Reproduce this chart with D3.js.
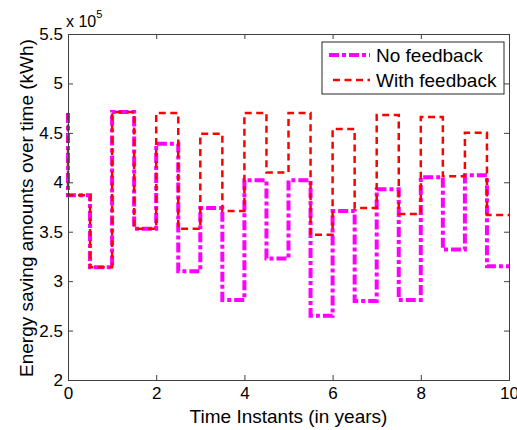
<!DOCTYPE html>
<html>
<head>
<meta charset="utf-8">
<script src="https://cdn.jsdelivr.net/npm/d3@7"></script>
<style>
  body { margin: 0; background: #fff; }
  svg { font-family: Arial, "Liberation Sans", sans-serif; }
</style>
</head>
<body>
<div id="chart"></div>
<script>
// step edges (years) and levels, x 1e5 kWh
var edges = [0, 0.5, 1, 1.5, 2, 2.5, 3, 3.5, 4, 4.5, 5, 5.5, 6, 6.5, 7, 7.5, 8, 8.5, 9, 9.5, 10];
var startLevel = 4.70;
var noFeedback = [3.87, 3.14, 4.71, 3.53, 4.39, 3.10, 3.74, 2.81, 4.02, 3.23,
                  4.02, 2.65, 3.71, 2.80, 3.93, 2.81, 4.05, 3.32, 4.07, 3.15];
var withFeedback = [3.87, 3.14, 4.71, 3.53, 4.70, 3.53, 4.49, 3.71, 4.70, 4.10,
                    4.70, 3.47, 4.54, 3.74, 4.68, 3.68, 4.66, 4.06, 4.50, 3.67];
var xTicks = [0, 2, 4, 6, 8, 10];
var yTicks = [2, 2.5, 3, 3.5, 4, 4.5, 5, 5.5];

(function() {
    'use strict';

    var width = 517, height = 430;
    var margin = {left: 68, right: 8, top: 34, bottom: 50};
    var w = width - margin.left - margin.right;
    var h = height - margin.top - margin.bottom;
    var axisColor = "#404040";

    var svg = d3.select("#chart").append("svg")
        .attr("width", width)
        .attr("height", height);

    var g = svg.append("g")
        .attr("transform", "translate(" + margin.left + "," + margin.top + ")");

    var x = d3.scaleLinear().domain([0, 10]).range([0, w]);
    var y = d3.scaleLinear().domain([2, 5.5]).range([h, 0]);

    // turn levels into stair points
    function stairs(levels) {
        var pts = [[edges[0], startLevel]];
        levels.forEach(function(v, i) {
            pts.push([edges[i], v]);
            pts.push([edges[i + 1], v]);
        });
        return pts;
    }

    var line = d3.line()
        .x(function(d) { return x(d[0]); })
        .y(function(d) { return y(d[1]); });

    g.append("path")
        .attr("d", line(stairs(noFeedback)))
        .attr("fill", "none")
        .attr("stroke", "#ff00ff")
        .attr("stroke-width", 4)
        .attr("stroke-dasharray", "10,3,4,3");

    g.append("path")
        .attr("d", line(stairs(withFeedback)))
        .attr("fill", "none")
        .attr("stroke", "#ff0000")
        .attr("stroke-width", 2.5)
        .attr("stroke-dasharray", "7,4.5");

    // axes, MATLAB style with ticks inside
    var bottom = g.append("g").attr("transform", "translate(0," + h + ")")
        .call(d3.axisBottom(x).tickValues(xTicks).tickSize(-5).tickPadding(7).tickFormat(d3.format("d")));
    var top = g.append("g")
        .call(d3.axisTop(x).tickValues(xTicks).tickSize(-5).tickFormat(""));
    var left = g.append("g")
        .call(d3.axisLeft(y).tickValues(yTicks).tickSize(-5).tickPadding(5).tickFormat(d3.format("~g")));
    var right = g.append("g").attr("transform", "translate(" + w + ",0)")
        .call(d3.axisRight(y).tickValues(yTicks).tickSize(-5).tickFormat(""));

    [bottom, top, left, right].forEach(function(a) {
        a.select(".domain").attr("stroke", axisColor);
        a.selectAll(".tick line").attr("stroke", axisColor);
        a.selectAll("text").attr("fill", "#000").style("font-size", "17px");
    });

    // x 10^5 multiplier
    var mult = svg.append("text")
        .attr("x", 66).attr("y", 27)
        .style("font-size", "16px");
    mult.append("tspan").text("x 10");
    mult.append("tspan").attr("dy", -9).style("font-size", "11px").text("5");

    svg.append("text")
        .attr("x", margin.left + w / 2).attr("y", 423)
        .attr("text-anchor", "middle")
        .style("font-size", "19px")
        .text("Time Instants (in years)");

    svg.append("text")
        .attr("transform", "translate(33," + (margin.top + h / 2 + 1) + ") rotate(-90)")
        .attr("text-anchor", "middle")
        .style("font-size", "19px")
        .text("Energy saving amounts over time (kWh)");

    // legend
    var leg = svg.append("g");
    leg.append("rect")
        .attr("x", 322).attr("y", 42).attr("width", 182).attr("height", 52)
        .attr("fill", "#fff").attr("stroke", "#262626");
    var items = [
        {name: "No feedback", color: "#ff00ff", sw: 4, dash: "10,3,4,3", x1: 329},
        {name: "With feedback", color: "#ff0000", sw: 2.5, dash: "7,4.5", x1: 333}
    ];
    items.forEach(function(it, i) {
        var yy = 55 + i * 25;
        leg.append("line")
            .attr("x1", it.x1).attr("x2", 370).attr("y1", yy).attr("y2", yy)
            .attr("stroke", it.color).attr("stroke-width", it.sw)
            .attr("stroke-dasharray", it.dash);
        leg.append("text")
            .attr("x", 376).attr("y", yy + 6.5)
            .style("font-size", "19px")
            .text(it.name);
    });
})();
</script>
</body>
</html>
